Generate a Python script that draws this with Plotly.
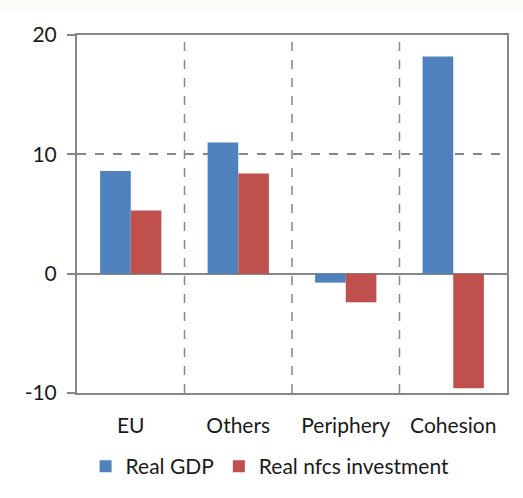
import plotly.graph_objects as go

categories = ["EU", "Others", "Periphery", "Cohesion"]
real_gdp = [8.6, 11.0, -0.75, 18.2]
real_nfcs_investment = [5.3, 8.4, -2.4, -9.6]
y_ticks = [-10, 0, 10, 20]
y_tick_labels = ["-10", "0", "10", "20"]

BLUE = "#4F81BD"
RED = "#C0504D"
GRID = "#868686"
FONT = "Lato, 'Open Sans', sans-serif"

fig = go.Figure()
fig.add_trace(go.Bar(name="Real GDP", x=categories, y=real_gdp,
                     marker=dict(color=BLUE, line=dict(width=0))))
fig.add_trace(go.Bar(name="Real nfcs investment", x=categories, y=real_nfcs_investment,
                     marker=dict(color=RED, line=dict(width=0))))

# white card on a faintly tinted page
fig.add_shape(type="rect", xref="paper", yref="paper",
              x0=-0.2, x1=1.2, y0=-0.3, y1=1.07,
              fillcolor="white", line=dict(width=0), layer="below")

# dashed separators between category groups
for i in range(len(categories) - 1):
    fig.add_shape(type="line", xref="x", yref="paper", x0=i + 0.5, x1=i + 0.5,
                  y0=0, y1=1, line=dict(color=GRID, width=1.5, dash="dash"),
                  layer="between")

fig.update_layout(
    width=523, height=498,
    margin=dict(l=77, r=16, t=35, b=104),
    paper_bgcolor="#FBFBF7",
    plot_bgcolor="white",
    barmode="group",
    bargap=0.43,
    bargroupgap=0,
    font=dict(family=FONT, size=21, color="#1a1a1a"),
    showlegend=True,
    legend=dict(orientation="h", x=0.02, xanchor="left", y=-0.145, yanchor="top",
                font=dict(size=21), itemwidth=30, traceorder="normal",
                bgcolor="rgba(0,0,0,0)"),
    xaxis=dict(showgrid=False, showline=True, mirror=True, linecolor=GRID,
               linewidth=2, ticks="outside", ticklen=13,
               tickcolor="rgba(0,0,0,0)", tickfont=dict(size=21)),
    yaxis=dict(range=[-10, 20], tickvals=y_ticks, ticktext=y_tick_labels,
               showgrid=True, gridcolor=GRID,
               griddash="dash", gridwidth=1.5, zeroline=True, zerolinecolor=GRID,
               zerolinewidth=2, showline=True, mirror=True, linecolor=GRID,
               linewidth=2, ticks="outside", ticklen=8, tickcolor=GRID,
               tickwidth=2, tickfont=dict(size=21), ticklabelstandoff=6),
)

fig.write_html("out.html")
